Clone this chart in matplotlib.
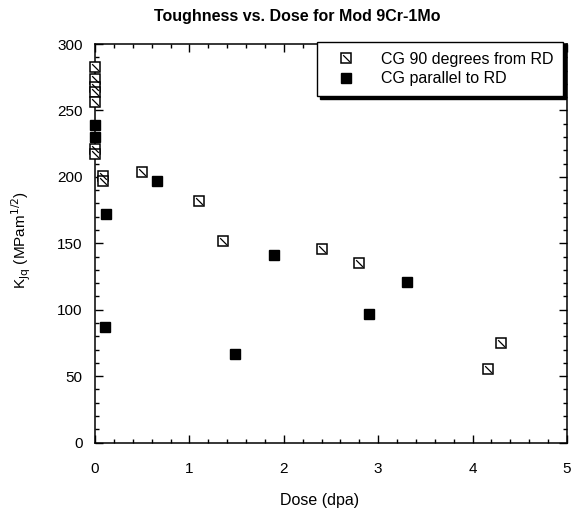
import matplotlib
matplotlib.use("Agg")
import matplotlib.pyplot as plt
from matplotlib.path import Path
from matplotlib.ticker import MultipleLocator
from matplotlib.legend_handler import HandlerTuple

plt.rcParams['font.family'] = ['Liberation Sans', 'DejaVu Sans']

# CG 90 degrees from RD
dose_90 = [0.0, 0.0, 0.0, 0.0, 0.0, 0.0, 0.0, 0.08, 0.08, 0.5, 1.10, 1.36, 2.40, 2.80, 4.16, 4.30]
k_90 = [283, 274, 268, 264, 256, 221, 217, 201, 197, 204, 182, 152, 146, 135, 55, 75]

# CG parallel to RD
dose_par = [0.0, 0.0, 0.12, 0.66, 0.11, 1.48, 1.90, 2.90, 3.30]
k_par = [239, 230, 172, 197, 87, 67, 141, 97, 121]

title = "Toughness vs. Dose for Mod 9Cr-1Mo"
xlabel = "Dose (dpa)"
ylabel = r"K$_{\mathrm{Jq}}$ (MPam$^{\mathrm{1/2}}$)"
labels = ["CG 90 degrees from RD", "CG parallel to RD"]

W, H = 580, 513
fig = plt.figure(figsize=(5.8, 5.13), dpi=100)
ax = fig.add_axes([95 / W, 1 - 442.5 / H, (567 - 95) / W, (442.5 - 44) / H])

diag = Path([(-1, 1), (1, -1)], [Path.MOVETO, Path.LINETO])

h1 = ax.plot(dose_90, k_90, linestyle='none', marker='s', ms=7,
             mfc='white', mec='black', mew=1.1, zorder=3, clip_on=False)[0]
h1b = ax.plot(dose_90, k_90, linestyle='none', marker=diag, ms=4.8,
              mec='black', mew=0.9, zorder=4, clip_on=False)[0]
h2 = ax.plot(dose_par, k_par, linestyle='none', marker='s', ms=7,
             mfc='black', mec='black', mew=1.0, zorder=3, clip_on=False)[0]

ax.set_xlim(0, 5)
ax.set_ylim(0, 300)
ax.xaxis.set_major_locator(MultipleLocator(1))
ax.xaxis.set_minor_locator(MultipleLocator(0.2))
ax.yaxis.set_major_locator(MultipleLocator(50))
ax.yaxis.set_minor_locator(MultipleLocator(10))
ax.tick_params(which='both', direction='in', top=True, right=True, width=1.0)
ax.tick_params(which='major', length=6)
ax.tick_params(which='minor', length=3)
ax.tick_params(axis='x', which='major', pad=14, labelsize=11)
ax.tick_params(axis='y', which='major', pad=9, labelsize=11)
for s in ax.spines.values():
    s.set_linewidth(1.1)

fig.text(297 / W, 1 - 17 / H, title, fontsize=11.5, fontweight='bold',
         ha='center', va='center')
ax.set_xlabel(xlabel, fontsize=11.5)
ax.xaxis.set_label_coords((320 - 95) / (567 - 95), -(500 - 442.5) / (442.5 - 44))
ax.xaxis.label.set_va('center')
ax.set_ylabel(ylabel, fontsize=11)
ax.yaxis.set_label_coords(-(95 - 21) / (567 - 95), (442.5 - 240) / (442.5 - 44))
ax.yaxis.label.set_va('center')

leg = ax.legend([(h1, h1b), h2], labels, loc='upper right',
                bbox_to_anchor=((563 - 95) / (567 - 95), 1.005), borderaxespad=0.0,
                handler_map={tuple: HandlerTuple(ndivide=1)},
                fancybox=False, shadow={'color': 'black', 'alpha': 1.0},
                edgecolor='black', framealpha=1.0, fontsize=11.5,
                handletextpad=1.0, borderpad=0.6, labelspacing=0.3,
                handlelength=2.4)
leg.get_frame().set_linewidth(1.0)

fig.savefig("out.png", dpi=100)
